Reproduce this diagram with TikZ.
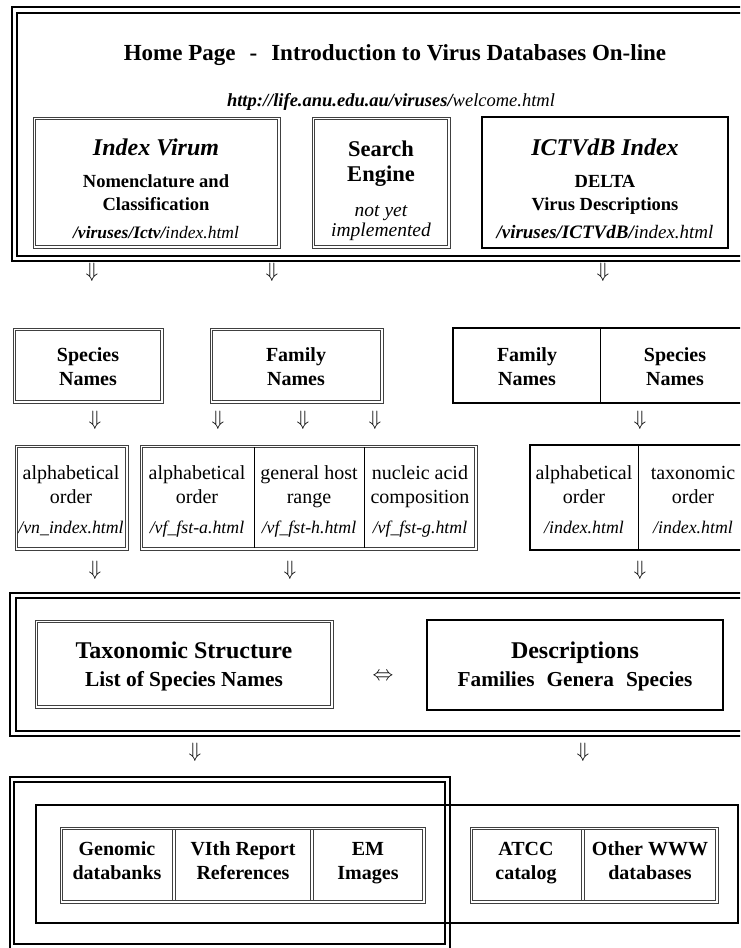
\documentclass[tikz,border=0pt]{standalone}
\usepackage{fontspec}
\setmainfont{Liberation Serif}
\newcommand\bx[6]{\node[#2, anchor=north west, minimum width=#5pt-#3pt, minimum height=#6pt-#4pt, inner sep=0pt, outer sep=0pt] (#1) at (#3,#4) {};}
\newcommand\dbx[5]{\node[dblo, anchor=north west, minimum width=#4pt-#2pt, minimum height=#5pt-#3pt, inner sep=0pt, outer sep=0pt] (#1) at (#2,#3) {};
  \draw[dbli] ([shift={(2.4,2.4)}]#1.north west) rectangle ([shift={(-2.4,-2.4)}]#1.south east);}
\newcommand\ddiv[3]{\draw[dbli] (#1-1.2,#2) -- (#1-1.2,#3); \draw[dbli] (#1+1.2,#2) -- (#1+1.2,#3);}
\begin{document}
\begin{tikzpicture}[x=1pt,y=-1pt,
  dblo/.style={draw=black!75, line width=0.8pt},
  dbli/.style={draw=black!75, line width=0.8pt},
  thk/.style={draw=black, line width=2.4pt},
  frO/.style={draw=black, line width=1.1pt},
  frI/.style={draw=black, line width=2.2pt},
  dv/.style={draw=black, line width=0.8pt},
  t/.style={inner sep=0pt, align=center, text depth=0pt},
  hd/.style={t, font=\fontsize{23}{27}\selectfont\bfseries},
  ti/.style={t, font=\fontsize{24}{27}\selectfont\bfseries\itshape},
  bb/.style={t, font=\fontsize{18.5}{23}\selectfont\bfseries},
  bl/.style={t, font=\fontsize{20}{24}\selectfont\bfseries},
  rg/.style={t, font=\fontsize{20}{24}\selectfont},
  it/.style={t, font=\fontsize{17.8}{20}\selectfont\itshape},
  ar/.style={inner sep=0pt, font=\fontsize{20}{24}\selectfont},
]
\fill[white] (0,0) rectangle (740,948);
\clip (0,0) rectangle (740,948);
% ---------- top frame
\bx{topO}{frO}{12}{7}{770}{261}
\bx{topI}{frI}{17}{13}{770}{256}
\node[hd] (head) at (395,53) {Home Page\hspace{14pt}-\hspace{14pt}Introduction to Virus Databases On-line};
\node[t, font=\fontsize{18.5}{20}\selectfont] (url) at (391,100) {{\bfseries\itshape http://life.anu.edu.au/viruses/}{\itshape welcome.html}};
\dbx{iv}{33}{117}{280}{248}
\dbx{se}{312}{117}{450}{248}
\bx{ic}{thk}{482}{117}{728}{248}
\node[ti] (ivT) at (156,147) {Index Virum};
\node[bb] (ivN) at (156,193) {Nomenclature and\\Classification};
\node[it, font=\fontsize{17.5}{20}\selectfont\itshape] (ivU) at (156,232) {{\bfseries /viruses/Ictv/}index.html};
\node[t, font=\fontsize{22.5}{25}\selectfont\bfseries] (seT) at (381,161) {Search\\Engine};
\node[t, font=\fontsize{19.5}{20}\selectfont\itshape] (seN) at (381,221) {not yet\\implemented};
\node[ti] (icT) at (605,147) {ICTVdB Index};
\node[bb] (icN) at (605,193) {DELTA\\Virus Descriptions};
\node[it, font=\fontsize{19}{20}\selectfont\itshape] (icU) at (605,232) {{\bfseries /viruses/ICTVdB/}index.html};
% arrows row 1
\node[ar] (a1) at (92,272) {$\Downarrow$};
\node[ar] (a2) at (272,272) {$\Downarrow$};
\node[ar] (a3) at (603,272) {$\Downarrow$};
% ---------- row 2
\dbx{sn}{13}{328}{163}{403}
\dbx{fn}{210}{328}{383}{403}
\bx{rb}{thk}{453}{328}{770}{403}
\draw[dv] (600,328) -- (600,403);
\node[bl] (snT) at (88,367) {Species\\Names};
\node[bl] (fnT) at (296,367) {Family\\Names};
\node[bl] (rbF) at (527,367) {Family\\Names};
\node[bl] (rbS) at (675,367) {Species\\Names};
% arrows row 2
\node[ar] (b1) at (95,420) {$\Downarrow$};
\node[ar] (b2) at (218,420) {$\Downarrow$};
\node[ar] (b3) at (303,420) {$\Downarrow$};
\node[ar] (b4) at (375,420) {$\Downarrow$};
\node[ar] (b5) at (640,420) {$\Downarrow$};
% ---------- row 3
\dbx{ca}{15}{445}{128}{550}
\dbx{cb}{140}{445}{477}{550}
\bx{cc}{thk}{530}{445}{770}{550}
\draw[dv] (254,447) -- (254,548);
\draw[dv] (364,447) -- (364,548);
\draw[dv] (638,445) -- (638,550);
\node[rg] (caT) at (71,485) {alphabetical\\order};
\node[it] (caU) at (71,527) {/vn\_index.html};
\node[rg] (cb1) at (197,485) {alphabetical\\order};
\node[it] (cb1U) at (197,527) {/vf\_fst-a.html};
\node[rg] (cb2) at (309,485) {general host\\range};
\node[it] (cb2U) at (309,527) {/vf\_fst-h.html};
\node[rg] (cb3) at (420,485) {nucleic acid\\composition};
\node[it] (cb3U) at (420,527) {/vf\_fst-g.html};
\node[rg] (cc1) at (584,485) {alphabetical\\order};
\node[it] (cc1U) at (584,527) {/index.html};
\node[rg] (cc2) at (693,485) {taxonomic\\order};
\node[it] (cc2U) at (693,527) {/index.html};
% arrows row 3
\node[ar] (c1) at (95,570) {$\Downarrow$};
\node[ar] (c2) at (290,570) {$\Downarrow$};
\node[ar] (c3) at (640,570) {$\Downarrow$};
% ---------- middle frame
\bx{midO}{frO}{10}{593}{770}{736}
\bx{midI}{frI}{16}{598}{770}{731}
\dbx{tx}{35}{620}{333}{708}
\bx{de}{thk}{427}{620}{723}{710}
\node[t, font=\fontsize{24}{27}\selectfont\bfseries] (txT) at (184,650) {Taxonomic Structure};
\node[t, font=\fontsize{21.4}{24}\selectfont\bfseries] (txS) at (184,679) {List of Species Names};
\node[t, font=\fontsize{24}{27}\selectfont\bfseries] (deT) at (575,650) {Descriptions};
\node[t, font=\fontsize{21.3}{24}\selectfont\bfseries] (deS) at (575,679) {Families\hspace{12pt}Genera\hspace{12pt}Species};
\node[ar] (lr) at (383,677) {$\Leftrightarrow$};
% arrows
\node[ar] (d1) at (195,752) {$\Downarrow$};
\node[ar] (d2) at (583,752) {$\Downarrow$};
% ---------- bottom
\bx{wide}{thk}{36}{805}{738}{923}
\bx{lfO}{frO}{10}{777}{450}{960}
\bx{lfI}{frI}{14}{782}{445}{944}
\dbx{gb}{60}{827}{425}{903}
\ddiv{174}{829}{901}
\ddiv{312}{829}{901}
\dbx{at}{470}{827}{718}{903}
\ddiv{583}{829}{901}
\node[bl] (g1) at (117,861) {Genomic\\databanks};
\node[bl] (g2) at (243,861) {VIth Report\\References};
\node[bl] (g3) at (368,861) {EM\\Images};
\node[bl] (g4) at (526,861) {ATCC\\catalog};
\node[bl] (g5) at (650,861) {Other WWW\\databases};
\end{tikzpicture}
\end{document}
